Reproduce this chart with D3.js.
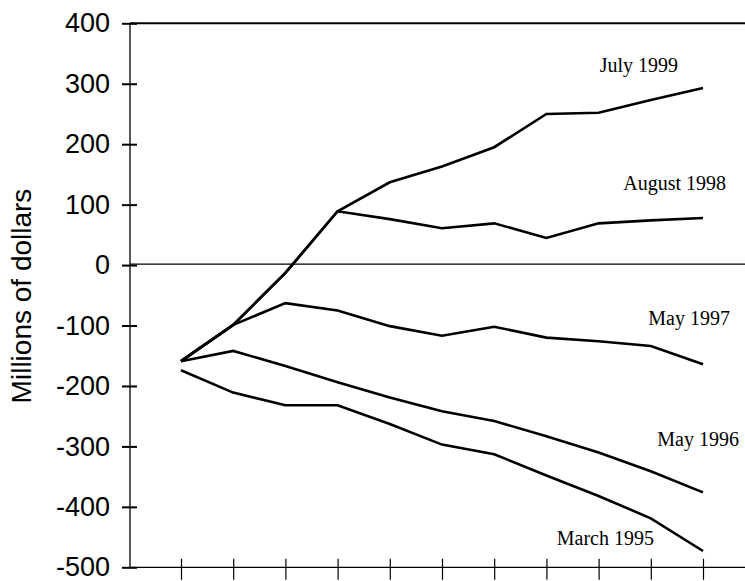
<!DOCTYPE html>
<html>
<head>
<meta charset="utf-8">
<script src="https://cdn.jsdelivr.net/npm/d3@7"></script>
<style>
  body { margin: 0; background: #fff; }
  svg { display: block; }
</style>
</head>
<body>
<div id="chart"></div>
<script>
// values, millions of dollars
const periods = d3.range(11);
const july1999 = [-159, -99, -13, 89, 137, 163, 195, 250, 252, 273, 293];
const august1998 = [-159, -99, -13, 89, 76, 61, 69, 45, 69, 74, 78];
const may1997 = [-159, -99, -63, -75, -101, -117, -102, -120, -126, -134, -164];
const may1996 = [-159, -142, -167, -194, -219, -242, -258, -283, -310, -341, -376];
const march1995 = [-174, -211, -232, -232, -263, -297, -313, -348, -382, -419, -473];
const seriesNames = ["July 1999", "August 1998", "May 1997", "May 1996", "March 1995"];
const yTicks = [-500, -400, -300, -200, -100, 0, 100, 200, 300, 400];

const seriesValues = [july1999, august1998, may1997, may1996, march1995];
const series = seriesNames.map((name, i) => ({ name, values: seriesValues[i] }));

// label placement relative to the last point of each line
const labelOffsets = {
  "July 1999": [-25, -16],
  "August 1998": [23, -28],
  "May 1997": [27, -39],
  "May 1996": [36, -46],
  "March 1995": [-49, -6]
};

const width = 745, height = 581;
const axisX = 130, rightX = 745;

const svg = d3.select("#chart").append("svg")
  .attr("width", width)
  .attr("height", height);

const x = d3.scalePoint().domain(periods).range([181, 703]);
const y = d3.scaleLinear().domain([-500, 400]).range([567.3, 23.3]);

// y axis ticks and labels (plain hyphen for negatives, as in the original)
svg.append("g")
  .attr("transform", `translate(${axisX + 7},0)`)
  .call(d3.axisLeft(y).tickValues(yTicks).tickSize(15).tickPadding(12)
    .tickFormat(d => String(d)))
  .call(g => g.select(".domain").remove())
  .call(g => g.selectAll("line").attr("stroke", "#000").attr("stroke-width", 2))
  .call(g => g.selectAll("text")
    .attr("fill", "#000")
    .style("font-family", "'Liberation Sans', Arial, sans-serif")
    .style("font-size", "27px"));

// x axis ticks (no labels)
svg.append("g")
  .attr("transform", `translate(0,${y(-500) - 8.5})`)
  .call(d3.axisBottom(x).tickSize(21).tickFormat(""))
  .call(g => g.select(".domain").remove())
  .call(g => g.selectAll("line").attr("stroke", "#000").attr("stroke-width", 1.2));

// frame lines
svg.append("line")
  .attr("x1", axisX).attr("x2", axisX)
  .attr("y1", y(400)).attr("y2", y(-500))
  .attr("stroke", "#000").attr("stroke-width", 1.3);

svg.append("line")
  .attr("x1", axisX).attr("x2", rightX)
  .attr("y1", y(-500)).attr("y2", y(-500))
  .attr("stroke", "#000").attr("stroke-width", 1.3);

svg.append("line")
  .attr("x1", axisX).attr("x2", rightX)
  .attr("y1", y(400)).attr("y2", y(400))
  .attr("stroke", "#000").attr("stroke-width", 2);

svg.append("line")
  .attr("x1", axisX).attr("x2", rightX)
  .attr("y1", y(0) - 1).attr("y2", y(0) - 1)
  .attr("stroke", "#000").attr("stroke-width", 1.3);

// y title
svg.append("text")
  .attr("transform", `translate(31,${296}) rotate(-90)`)
  .attr("text-anchor", "middle")
  .style("font-family", "'Liberation Sans', Arial, sans-serif")
  .style("font-size", "28px")
  .attr("fill", "#000")
  .text("Millions of dollars");

const line = d3.line()
  .x((d, i) => x(periods[i]))
  .y(d => y(d));

svg.append("g").selectAll("path")
  .data(series)
  .enter()
  .append("path")
  .attr("d", d => line(d.values))
  .attr("fill", "none")
  .attr("stroke", "#000")
  .attr("stroke-width", 2.6)
  .attr("stroke-linejoin", "miter");

svg.append("g").selectAll("text")
  .data(series)
  .enter()
  .append("text")
  .attr("x", d => x(periods[periods.length - 1]) + labelOffsets[d.name][0])
  .attr("y", d => y(d.values[d.values.length - 1]) + labelOffsets[d.name][1])
  .attr("text-anchor", "end")
  .style("font-family", "'Liberation Serif', 'Times New Roman', serif")
  .style("font-size", "20px")
  .attr("fill", "#000")
  .text(d => d.name);
</script>
</body>
</html>
